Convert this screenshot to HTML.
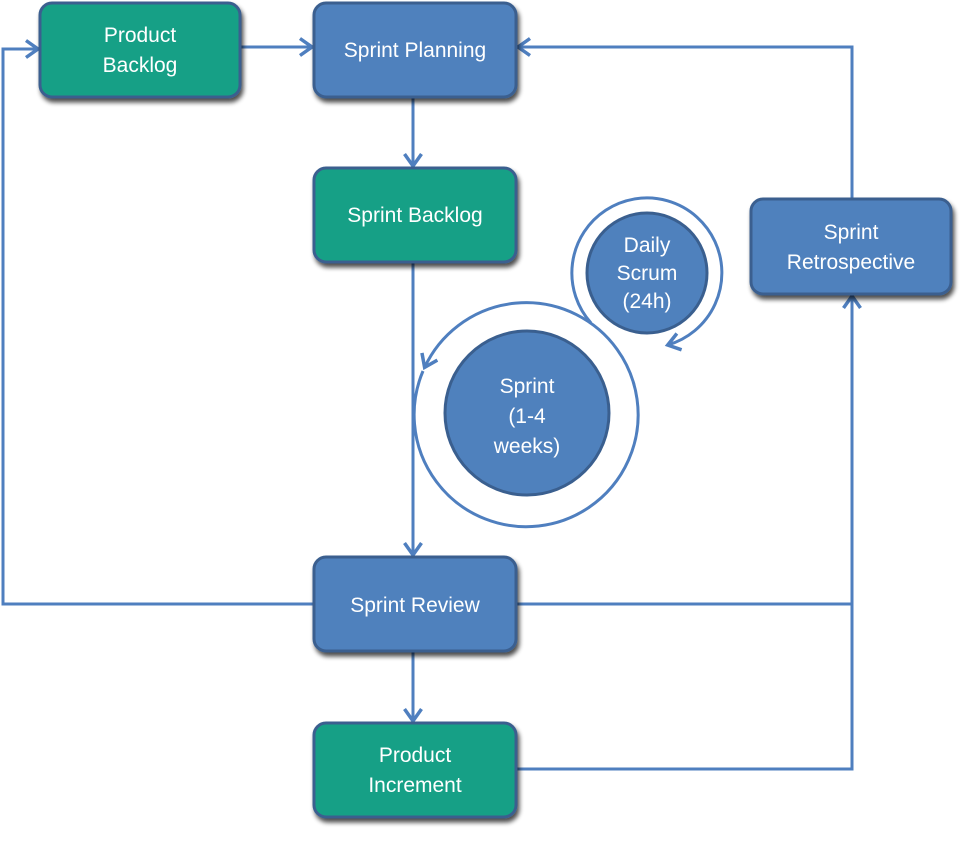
<!DOCTYPE html>
<html><head><meta charset="utf-8"><style>
html,body{margin:0;padding:0;background:#fff;}
body{width:963px;height:836px;position:relative;overflow:hidden;font-family:"Liberation Sans",sans-serif;}
</style></head><body>
<svg width="963" height="836" viewBox="0 0 963 836" xmlns="http://www.w3.org/2000/svg">
<defs>
<marker id="a" markerWidth="24" markerHeight="24" refX="14" refY="10" orient="auto" markerUnits="userSpaceOnUse">
<path d="M2,1.5 L14,10 L2,18.5" fill="none" stroke="#4f7fbf" stroke-width="3.5"/>
</marker>
<filter id="s" x="-10%" y="-10%" width="130%" height="140%">
<feGaussianBlur in="SourceAlpha" stdDeviation="2.5"/>
<feOffset dx="2" dy="4"/>
<feComponentTransfer><feFuncA type="linear" slope="0.7"/></feComponentTransfer>
<feMerge><feMergeNode/><feMergeNode in="SourceGraphic"/></feMerge>
</filter>
</defs>
<g fill="none" stroke="#4f7fbf" stroke-width="3">
<path d="M314,604 H3 V49 H38" marker-end="url(#a)"/>
<path d="M240,47 H312" marker-end="url(#a)"/>
<path d="M413,97 V166" marker-end="url(#a)"/>
<path d="M413,262 V555" marker-end="url(#a)"/>
<path d="M413,651 V721" marker-end="url(#a)"/>
<path d="M516,604 H852"/>
<path d="M516,769 H852 V296" marker-end="url(#a)"/>
<path d="M852,199 V47 H518" marker-end="url(#a)"/>
<path d="M591,323 A75,75 0 1 1 667.7,345" marker-end="url(#a)"/>
<path d="M423,371 A112,112 0 1 0 424.6,367.4" marker-end="url(#a)"/>
</g>
<g stroke="#3a5f8f" stroke-width="3" filter="url(#s)">
<rect x="40" y="3" width="200" height="94" rx="12" fill="#17a086"/>
<rect x="314" y="3" width="202" height="94" rx="12" fill="#4f81bd"/>
<rect x="314" y="168" width="202" height="94" rx="12" fill="#17a086"/>
<rect x="751" y="199" width="200" height="95" rx="12" fill="#4f81bd"/>
<rect x="314" y="557" width="202" height="94" rx="12" fill="#4f81bd"/>
<rect x="314" y="723" width="202" height="94" rx="12" fill="#17a086"/>
</g>
<g stroke="#3a5f8f" stroke-width="3" fill="#4f81bd">
<circle cx="647" cy="273" r="60"/>
<circle cx="527" cy="413" r="82"/>
</g>
<g fill="#fff" font-family="Liberation Sans, sans-serif" font-size="21" text-anchor="middle">
<text x="140" y="42">Product</text><text x="140" y="72">Backlog</text>
<text x="415" y="57">Sprint Planning</text>
<text x="415" y="222">Sprint Backlog</text>
<text x="851" y="239">Sprint</text><text x="851" y="269">Retrospective</text>
<text x="415" y="612">Sprint Review</text>
<text x="415" y="762">Product</text><text x="415" y="792">Increment</text>
<text x="647" y="252">Daily</text><text x="647" y="280">Scrum</text><text x="647" y="308">(24h)</text>
<text x="527" y="393">Sprint</text><text x="527" y="423">(1-4</text><text x="527" y="453">weeks)</text>
</g>
</svg>
</body></html>
